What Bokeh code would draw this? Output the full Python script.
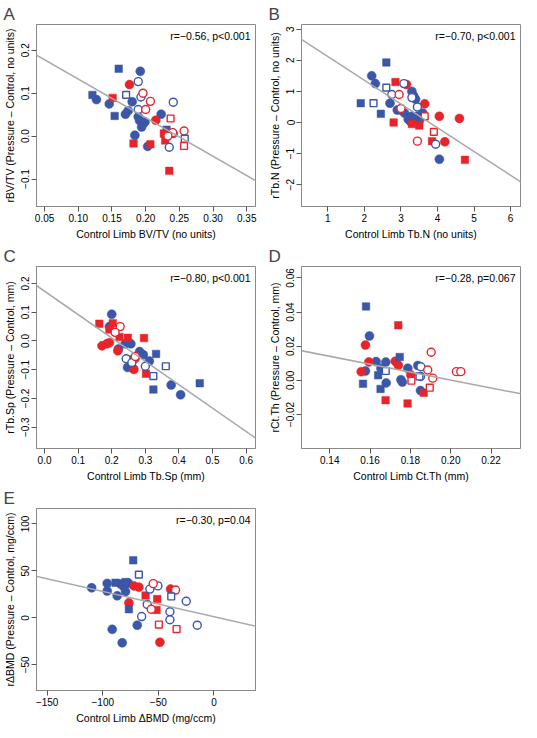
from bokeh.plotting import figure
from bokeh.layouts import column, row
from bokeh.models import Range1d, FixedTicker, Slope, Label
from bokeh.embed import file_html
from bokeh.resources import INLINE

# ---------------- data ----------------
# group codes: b/r = blue/red, f/o = filled/open, c/s = circle/square
A_x = [0.192, 0.127, 0.146, 0.170, 0.174, 0.180, 0.191, 0.196, 0.194, 0.184, 0.203, 0.223, 0.189, 0.199,
       0.160, 0.121, 0.154, 0.231,
       0.171, 0.258,
       0.189, 0.193, 0.189, 0.241, 0.241, 0.235,
       0.176, 0.215,
       0.196, 0.207, 0.200, 0.257, 0.240, 0.233,
       0.237, 0.257,
       0.151, 0.182, 0.207, 0.227, 0.229, 0.235]
A_y = [0.151, 0.085, 0.075, 0.051, 0.059, 0.080, 0.036, 0.028, 0.021, 0.002, -0.024, 0.051, 0.045, 0.033,
       0.157, 0.096, 0.047, 0.015,
       0.096, -0.006,
       0.127, 0.091, 0.062, 0.079, 0.006, -0.026,
       0.120, 0.037,
       0.100, 0.081, 0.062, 0.012, 0.008, 0.000,
       0.041, -0.023,
       0.089, -0.017, -0.019, 0.006, -0.010, -0.081]
A_g = ["bfc"] * 14 + ["bfs"] * 4 + ["bos"] * 2 + ["boc"] * 6 + ["rfc"] * 2 + ["roc"] * 6 + ["ros"] * 2 + ["rfs"] * 6

B_x = [2.6, 1.9, 2.45,
       2.25, 2.6,
       2.2, 2.3, 2.7, 2.9, 3.1, 3.2, 3.3, 3.35, 3.4, 3.3, 3.4, 3.5, 3.6, 3.25, 3.0, 4.05, 3.45,
       2.75, 3.08, 3.3, 3.45, 3.95,
       2.85, 2.8, 3.3, 3.5, 3.85, 4.75,
       3.9, 3.65,
       3.15, 3.65, 4.05, 4.6, 4.2,
       2.95, 3.45, 3.0]
B_y = [1.93, 0.62, 0.28,
       0.62, 1.12,
       1.5, 1.25, 0.62, 0.4, 0.3, 0.1, 1.0, 0.85, 0.75, 0.2, 0.1, 0.05, 0.3, 0.05, 0.4, -1.18, 0.2,
       0.9, 1.25, 0.8, 0.5, -0.7,
       1.3, 0.0, -0.05, -0.1, -0.6, -1.2,
       -0.3, 0.2,
       1.22, 0.6, 0.2, 0.13, -0.62,
       0.9, -0.6, 0.45]
B_g = ["bfs"] * 3 + ["bos"] * 2 + ["bfc"] * 17 + ["boc"] * 5 + ["rfs"] * 6 + ["ros"] * 2 + ["rfc"] * 5 + ["roc"] * 3

C_x = [0.200, 0.193, 0.220, 0.248, 0.257, 0.252, 0.247, 0.262, 0.283, 0.294, 0.312, 0.377, 0.405, 0.240,
       0.332, 0.324, 0.462,
       0.361, 0.324,
       0.243, 0.300, 0.260,
       0.163, 0.203, 0.193, 0.223, 0.248, 0.296, 0.302,
       0.171, 0.193, 0.218, 0.266, 0.270, 0.185,
       0.225, 0.270, 0.210]
C_y = [0.093, 0.050, -0.028, -0.004, -0.010, -0.066, -0.092, -0.094, -0.037, -0.048, -0.070, -0.153, -0.187, -0.010,
       -0.045, -0.169, -0.147,
       -0.088, -0.122,
       -0.062, -0.088, -0.075,
       0.060, 0.062, 0.040, 0.014, 0.011, 0.010, -0.114,
       -0.017, -0.006, -0.034, -0.099, -0.060, -0.010,
       0.050, -0.054, 0.030]
C_g = ["bfc"] * 14 + ["bfs"] * 3 + ["bos"] * 2 + ["boc"] * 3 + ["rfs"] * 7 + ["rfc"] * 6 + ["roc"] * 3

D_x = [0.1580, 0.1565, 0.1652, 0.1747, 0.1640,
       0.1740, 0.1677, 0.1786, 0.1866,
       0.1597, 0.1577, 0.1630, 0.1678, 0.1680, 0.1753, 0.1760, 0.1787, 0.1837, 0.1850, 0.1654,
       0.1577, 0.1594, 0.1725, 0.1740, 0.1556, 0.1802,
       0.1903, 0.1886, 0.1911, 0.2028, 0.2050,
       0.1805, 0.1896,
       0.1852, 0.1850,
       0.1678, 0.1845]
D_y = [0.0433, -0.0020, -0.0050, 0.0137, 0.0030,
       0.0323, -0.0116, -0.0135, -0.0073,
       0.0260, 0.0055, 0.0110, 0.0107, -0.0015, 0.0004, -0.0010, 0.0071, 0.0087, -0.0060, 0.0070,
       0.0207, 0.0108, 0.0112, 0.0089, 0.0051, 0.0032,
       0.0165, 0.0061, 0.0013, 0.0051, 0.0051,
       -0.0002, -0.0043,
       0.0080, 0.0023,
       0.0055, 0.0023]
D_g = ["bfs"] * 5 + ["rfs"] * 4 + ["bfc"] * 11 + ["rfc"] * 6 + ["roc"] * 5 + ["ros"] * 2 + ["boc"] * 2 + ["bos"] * 2

E_x = [-72.6, -76.5, -88.5, -79.5,
       -67.5, -38.4,
       -110.0, -96.0, -96.0, -87.0, -81.0, -77.0, -79.5, -91.5, -82.5, -69.0, -84.0,
       -57.6, -50.4, -60.0, -65.0, -39.6, -39.6, -24.9, -15.0,
       -76.5, -67.5, -39.0, -48.6, -72.0,
       -54.6, -34.5, -56.4,
       -61.5, -51.0, -51.6,
       -49.5, -33.6]
E_y = [61.2, 9.2, 37.4, 38.1,
       46.0, 22.8,
       32.0, 36.7, 28.6, 23.5, 33.0, 37.1, 28.0, -12.2, -26.5, -7.8, 36.0,
       30.6, 34.0, 14.3, 1.4, 6.5, -2.0, 17.7, -7.8,
       16.0, 32.7, 30.6, -25.9, 34.0,
       36.4, 29.6, 9.2,
       23.8, 20.0, 8.5,
       -7.1, -11.9]
E_g = ["bfs"] * 4 + ["bos"] * 2 + ["bfc"] * 11 + ["boc"] * 8 + ["rfc"] * 5 + ["roc"] * 3 + ["rfs"] * 3 + ["ros"] * 2

# regression fits (slope, intercept)
A_fit = (-0.90, 0.223)
B_fit = (-0.763, 2.88)
C_fit = (-0.813, 0.173)
D_fit = (-0.232, 0.0466)
E_fit = (-0.2685, 1.25)

A_ticks_x = [0.05, 0.10, 0.15, 0.20, 0.25, 0.30, 0.35]
A_labels_x = ["0.05", "0.10", "0.15", "0.20", "0.25", "0.30", "0.35"]
A_ticks_y = [-0.1, 0.0, 0.1, 0.2]
A_labels_y = ["\u22120.1", "0.0", "0.1", "0.2"]
B_ticks_x = [1, 2, 3, 4, 5, 6]
B_labels_x = ["1", "2", "3", "4", "5", "6"]
B_ticks_y = [-2, -1, 0, 1, 2, 3]
B_labels_y = ["\u22122", "\u22121", "0", "1", "2", "3"]
C_ticks_x = [0.0, 0.1, 0.2, 0.3, 0.4, 0.5, 0.6]
C_labels_x = ["0.0", "0.1", "0.2", "0.3", "0.4", "0.5", "0.6"]
C_ticks_y = [-0.3, -0.2, -0.1, 0.0, 0.1, 0.2]
C_labels_y = ["\u22120.3", "\u22120.2", "\u22120.1", "0.0", "0.1", "0.2"]
D_ticks_x = [0.14, 0.16, 0.18, 0.20, 0.22]
D_labels_x = ["0.14", "0.16", "0.18", "0.20", "0.22"]
D_ticks_y = [-0.02, 0.0, 0.02, 0.04, 0.06]
D_labels_y = ["\u22120.02", "0.00", "0.02", "0.04", "0.06"]
E_ticks_x = [-150, -100, -50, 0]
E_labels_x = ["\u2212150", "\u2212100", "\u221250", "0"]
E_ticks_y = [-50, 0, 50, 100]
E_labels_y = ["\u221250", "0", "50", "100"]

A_range = ((0.038, 0.363), (-0.164, 0.26))
B_range = ((0.28, 6.27), (-2.70, 3.15))
C_range = ((-0.024, 0.628), (-0.374, 0.259))
D_range = ((0.126, 0.2346), (-0.0399, 0.0667))
E_range = ((-159.6, 37.4), (-77.3, 116.4))

BLUE = "#3a57a8"
RED = "#e8242b"
FONT = "Liberation Sans"


def panel(letter, xs, ys, gs, rng, fit, tx, tlx, ty, tly, xlab, ylab, note, right_col):
    p = figure(frame_width=219, frame_height=182,
               x_range=Range1d(*rng[0]), y_range=Range1d(*rng[1]),
               output_backend="svg", toolbar_location=None,
               min_border_left=34, min_border_right=(4 if right_col else 10),
               min_border_top=24, min_border_bottom=34)
    p.background_fill_color = "white"
    p.border_fill_color = "white"
    p.outline_line_color = "#8a8a8a"
    p.outline_line_width = 1
    p.grid.visible = False
    p.title.text = letter
    p.title.text_font = FONT
    p.title.text_font_size = "17px"
    p.title.text_font_style = "normal"
    p.title.align = "left"
    p.title.offset = -33
    p.title.standoff = 1
    for ax in (p.xaxis[0], p.yaxis[0]):
        ax.axis_line_color = "#8a8a8a"
        ax.major_tick_line_color = "#555555"
        ax.major_tick_out = 5
        ax.major_tick_in = 0
        ax.minor_tick_line_color = None
        ax.major_label_text_font = FONT
        ax.major_label_text_font_size = "10px"
        ax.major_label_text_color = "black"
        ax.major_label_standoff = 2
        ax.axis_label_text_font = FONT
        ax.axis_label_text_font_size = "10.5px"
        ax.axis_label_text_font_style = "normal"
        ax.axis_label_text_color = "black"
        ax.axis_label_standoff = 3
    p.xaxis.ticker = FixedTicker(ticks=tx)
    p.xaxis.major_label_overrides = {t: l for t, l in zip(tx, tlx)}
    p.yaxis.ticker = FixedTicker(ticks=ty)
    p.yaxis.major_label_overrides = {t: l for t, l in zip(ty, tly)}
    p.yaxis.major_label_orientation = "vertical"
    p.xaxis.axis_label = xlab
    p.yaxis.axis_label = ylab

    p.add_layout(Slope(gradient=fit[0], y_intercept=fit[1], line_color="#a8a8a8", line_width=1.5))

    order = ["bfc", "rfc", "bfs", "rfs", "boc", "roc", "bos", "ros"]
    for code in order:
        gx = [x for x, g in zip(xs, gs) if g == code]
        gy = [y for y, g in zip(ys, gs) if g == code]
        if not gx:
            continue
        col = BLUE if code[0] == "b" else RED
        marker = "circle" if code[2] == "c" else "square"
        if code[1] == "f":
            size = 9 if marker == "circle" else 7.5
            p.scatter(gx, gy, marker=marker, size=size, fill_color=col, line_color=col, line_width=0.5)
        else:
            size = 8 if marker == "circle" else 6.8
            p.scatter(gx, gy, marker=marker, size=size, fill_color="white", line_color=col, line_width=1.4)

    p.add_layout(Label(x=rng[0][1], y=rng[1][1], x_offset=-5, y_offset=-5,
                       text=note, text_align="right", text_baseline="top",
                       text_font=FONT, text_font_size="10.5px", text_color="black"))
    return p


pa = panel("A", A_x, A_y, A_g, A_range, A_fit, A_ticks_x, A_labels_x, A_ticks_y, A_labels_y,
           "Control Limb BV/TV (no units)", "rBV/TV (Pressure \u2013 Control, no units)",
           "r=\u22120.56, p<0.001", False)
pb = panel("B", B_x, B_y, B_g, B_range, B_fit, B_ticks_x, B_labels_x, B_ticks_y, B_labels_y,
           "Control Limb Tb.N (no units)", "rTb.N (Pressure \u2013 Control, no units)",
           "r=\u22120.70, p<0.001", True)
pc = panel("C", C_x, C_y, C_g, C_range, C_fit, C_ticks_x, C_labels_x, C_ticks_y, C_labels_y,
           "Control Limb Tb.Sp (mm)", "rTb.Sp (Pressure \u2013 Control, mm)",
           "r=\u22120.80, p<0.001", False)
pd_ = panel("D", D_x, D_y, D_g, D_range, D_fit, D_ticks_x, D_labels_x, D_ticks_y, D_labels_y,
            "Control Limb Ct.Th (mm)", "rCt.Th (Pressure \u2013 Control, mm)",
            "r=\u22120.28, p=0.067", True)
pe = panel("E", E_x, E_y, E_g, E_range, E_fit, E_ticks_x, E_labels_x, E_ticks_y, E_labels_y,
           "Control Limb \u0394BMD (mg/ccm)", "r\u0394BMD (Pressure \u2013 Control, mg/ccm)",
           "r=\u22120.30, p=0.04", False)

layout = column(row(pa, pb), row(pc, pd_), row(pe))
open("out.html", "w").write(file_html(layout, INLINE))
